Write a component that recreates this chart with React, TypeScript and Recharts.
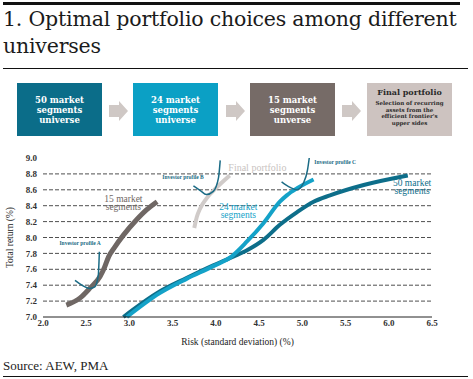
import React from 'react';
import {
  LineChart,
  Line,
  XAxis,
  YAxis,
  ReferenceLine,
  ReferenceDot,
} from 'recharts';

// frontier and indifference curves (risk %, return %)
const seg50Risk = [2.93, 3.35, 3.66, 3.97, 4.2, 4.36, 4.55, 4.74, 4.94, 5.13, 5.32, 5.71, 6.22];
const seg50Return = [7.0, 7.32, 7.49, 7.65, 7.76, 7.84, 7.97, 8.16, 8.32, 8.45, 8.53, 8.66, 8.78];

const seg24Risk = [2.97, 3.35, 3.66, 3.97, 4.18, 4.36, 4.55, 4.74, 4.82, 4.94, 5.13];
const seg24Return = [7.0, 7.3, 7.48, 7.64, 7.76, 7.95, 8.18, 8.45, 8.53, 8.62, 8.73];

const seg15Risk = [2.27, 2.43, 2.54, 2.66, 2.71, 2.76, 2.83, 2.93, 3.08, 3.2, 3.32];
const seg15Return = [7.15, 7.24, 7.36, 7.51, 7.62, 7.76, 7.88, 8.03, 8.22, 8.35, 8.45];

const finalRisk = [3.75, 3.78, 3.82, 3.89, 4.01, 4.16];
const finalReturn = [8.12, 8.26, 8.37, 8.49, 8.63, 8.78];

const profileARisk = [2.37, 2.45, 2.54, 2.6, 2.64, 2.648, 2.652];
const profileAReturn = [7.46, 7.4, 7.36, 7.38, 7.53, 7.7, 7.82];

const profileBRisk = [3.74, 3.82, 3.89, 3.97, 4.03, 4.05];
const profileBReturn = [8.65, 8.59, 8.54, 8.58, 8.75, 8.97];

const profileCRisk = [4.76, 4.86, 4.94, 5.01, 5.06, 5.08];
const profileCReturn = [8.7, 8.63, 8.6, 8.68, 8.85, 9.0];

const xTicks = [2.0, 2.5, 3.0, 3.5, 4.0, 4.5, 5.0, 5.5, 6.0, 6.5];
const yTicks = [7.0, 7.2, 7.4, 7.6, 7.8, 8.0, 8.2, 8.4, 8.6, 8.8, 9.0];
const gridReturns = [7.2, 7.4, 7.6, 7.8, 8.0, 8.2, 8.4, 8.6, 8.8];

const steps = [
  { title: ['50 market', 'segments', 'universe'], color: '#0b6d89' },
  { title: ['24 market', 'segments', 'universe'], color: '#0ba0c5' },
  { title: ['15 market', 'segments', 'unverse'], color: '#766b67' },
];

const zip = (xs: number[], ys: number[]) => xs.map((x, i) => ({ x, y: ys[i] }));

const serif = '"Liberation Serif", "DejaVu Serif", serif';
const wide = '"DejaVu Serif", serif';

const textLabel =
  (lines: string[], color: string, size: number, weight = 'normal', gap = size) =>
  (props: any) => {
    const vb = props.viewBox || {};
    return (
      <text
        x={vb.x}
        y={vb.y}
        textAnchor="middle"
        fill={color}
        fontSize={size}
        fontWeight={weight}
        style={{ fontFamily: serif }}
      >
        {lines.map((l, i) => (
          <tspan key={i} x={vb.x} dy={i === 0 ? 0 : gap}>
            {l}
          </tspan>
        ))}
      </text>
    );
  };

const Arrow = ({ left }: { left: number }) => (
  <svg style={{ position: 'absolute', left, top: 101, width: 20, height: 20 }}>
    <polygon points="0,4 10,4 10,0 19,10 10,20 10,16 0,16" fill="#cfc8c5" />
  </svg>
);

export default function App() {
  const boxLefts = [17, 133, 250];
  return (
    <div
      style={{
        position: 'absolute',
        left: 0,
        top: 0,
        width: 473,
        height: 379,
        background: '#fff',
        fontFamily: serif,
        overflow: 'hidden',
      }}
    >
      <style>{`.chart svg text { font-family: "Liberation Serif", "DejaVu Serif", serif; }`}</style>
      <div style={{ position: 'absolute', left: 3, top: 2, width: 457, height: 3, background: '#111' }} />
      <div
        style={{
          position: 'absolute',
          left: 3,
          top: 6,
          width: 470,
          fontFamily: wide,
          fontSize: 20.5,
          lineHeight: '27px',
          color: '#1b1b1b',
          letterSpacing: -0.2,
        }}
      >
        1. Optimal portfolio choices among different universes
      </div>
      <div style={{ position: 'absolute', left: 3, top: 68, width: 465, height: 1, background: '#111' }} />

      {steps.map((s, i) => (
        <div
          key={i}
          style={{
            position: 'absolute',
            left: boxLefts[i],
            top: 83,
            width: 85,
            height: 53,
            background: s.color,
            color: '#fff',
            fontFamily: wide,
            fontWeight: 'bold',
            fontSize: 8.5,
            lineHeight: '10px',
            display: 'flex',
            flexDirection: 'column',
            alignItems: 'center',
            justifyContent: 'center',
            textAlign: 'center',
          }}
        >
          {s.title.map((t, j) => (
            <div key={j}>{t}</div>
          ))}
        </div>
      ))}
      <div
        style={{
          position: 'absolute',
          left: 367,
          top: 83,
          width: 85,
          height: 53,
          background: '#cdc3c0',
          color: '#2a2a2a',
          fontFamily: wide,
          fontWeight: 'bold',
          textAlign: 'center',
        }}
      >
        <div style={{ fontSize: 8, marginTop: 4 }}>Final portfolio</div>
        <div style={{ fontSize: 5.5, lineHeight: '6.5px', marginTop: 3 }}>
          Selection of recurring
          <br />
          assets from the
          <br />
          efficient frontier's
          <br />
          upper sides
        </div>
      </div>
      <Arrow left={109} />
      <Arrow left={226} />
      <Arrow left={342} />

      <div className="chart" style={{ position: 'absolute', left: 0, top: 145 }}>
        <LineChart
          width={473}
          height={205}
          margin={{ top: 13, right: 41, bottom: 0, left: 0 }}
        >
          <XAxis
            type="number"
            dataKey="x"
            domain={[2, 6.5]}
            ticks={xTicks}
            tickFormatter={(v: number) => v.toFixed(1)}
            tickLine={false}
            tickSize={2}
            tickMargin={1}
            height={33}
            axisLine={{ stroke: '#222', strokeWidth: 1 }}
            tick={{ fill: '#333', fontSize: 9, fontWeight: 'bold' }}
            interval={0}
            allowDuplicatedCategory={false}
            label={{
              value: 'Risk (standard deviation) (%)',
              position: 'insideBottom',
              offset: 5,
              fill: '#222',
              fontSize: 9.5,
            }}
          />
          <YAxis
            type="number"
            dataKey="y"
            domain={[7, 9]}
            ticks={yTicks}
            tickFormatter={(v: number) => v.toFixed(1)}
            width={43}
            axisLine={false}
            tickLine={false}
            tickSize={4}
            tickMargin={2}
            interval={0}
            tick={{ fill: '#333', fontSize: 9, fontWeight: 'bold' }}
            label={{
              value: 'Total return (%)',
              angle: -90,
              position: 'insideLeft',
              offset: 10,
              fill: '#222',
              fontSize: 9.5,
              style: { textAnchor: 'middle' },
            }}
          />
          {gridReturns.map((v) => (
            <ReferenceLine key={v} y={v} stroke="#222" strokeWidth={0.8} strokeDasharray="4 2" />
          ))}

          <Line data={zip(finalRisk, finalReturn)} dataKey="y" type="monotone" stroke="#d0cbc9" strokeWidth={4} dot={false} isAnimationActive={false} />
          <Line data={zip(seg15Risk, seg15Return)} dataKey="y" type="monotone" stroke="#6f6764" strokeWidth={5} dot={false} isAnimationActive={false} />
          <Line data={zip(seg50Risk, seg50Return)} dataKey="y" type="monotone" stroke="#0d6e8a" strokeWidth={4} dot={false} isAnimationActive={false} />
          <Line data={zip(seg24Risk, seg24Return)} dataKey="y" type="monotone" stroke="#14a2c8" strokeWidth={4} dot={false} isAnimationActive={false} />
          <Line data={zip(profileARisk, profileAReturn)} dataKey="y" type="monotone" stroke="#1a6b85" strokeWidth={1.5} dot={false} isAnimationActive={false} />
          <Line data={zip(profileBRisk, profileBReturn)} dataKey="y" type="monotone" stroke="#1a6b85" strokeWidth={1.5} dot={false} isAnimationActive={false} />
          <Line data={zip(profileCRisk, profileCReturn)} dataKey="y" type="monotone" stroke="#1a6b85" strokeWidth={1.5} dot={false} isAnimationActive={false} />

          <ReferenceDot x={2.93} y={8.45} r={0} fill="none" stroke="none" ifOverflow="visible" label={textLabel(['15 market', 'segments'], '#6f6764', 9.5, 'normal', 8.5)} />
          <ReferenceDot x={4.26} y={8.35} r={0} fill="none" stroke="none" ifOverflow="visible" label={textLabel(['24 market', 'segments'], '#14a2c8', 9.5, 'normal', 8.5)} />
          <ReferenceDot x={6.27} y={8.65} r={0} fill="none" stroke="none" ifOverflow="visible" label={textLabel(['50 market', 'segments'], '#0d6e8a', 9.5, 'normal', 8.5)} />
          <ReferenceDot x={4.48} y={8.84} r={0} fill="none" stroke="none" ifOverflow="visible" label={textLabel(['Final portfolio'], '#c9c3c1', 10)} />
          <ReferenceDot x={2.43} y={7.91} r={0} fill="none" stroke="none" ifOverflow="visible" label={textLabel(['Investor profile A'], '#1a6b85', 5.5, 'bold')} />
          <ReferenceDot x={3.62} y={8.74} r={0} fill="none" stroke="none" ifOverflow="visible" label={textLabel(['Investor profile B'], '#1a6b85', 5.5, 'bold')} />
          <ReferenceDot x={5.38} y={8.92} r={0} fill="none" stroke="none" ifOverflow="visible" label={textLabel(['Investor profile C'], '#1a6b85', 5.5, 'bold')} />
        </LineChart>
      </div>

      <div style={{ position: 'absolute', left: 3, top: 358, fontSize: 13, color: '#222' }}>Source: AEW, PMA</div>
      <div style={{ position: 'absolute', left: 3, top: 376, width: 465, height: 1, background: '#111' }} />
    </div>
  );
}
